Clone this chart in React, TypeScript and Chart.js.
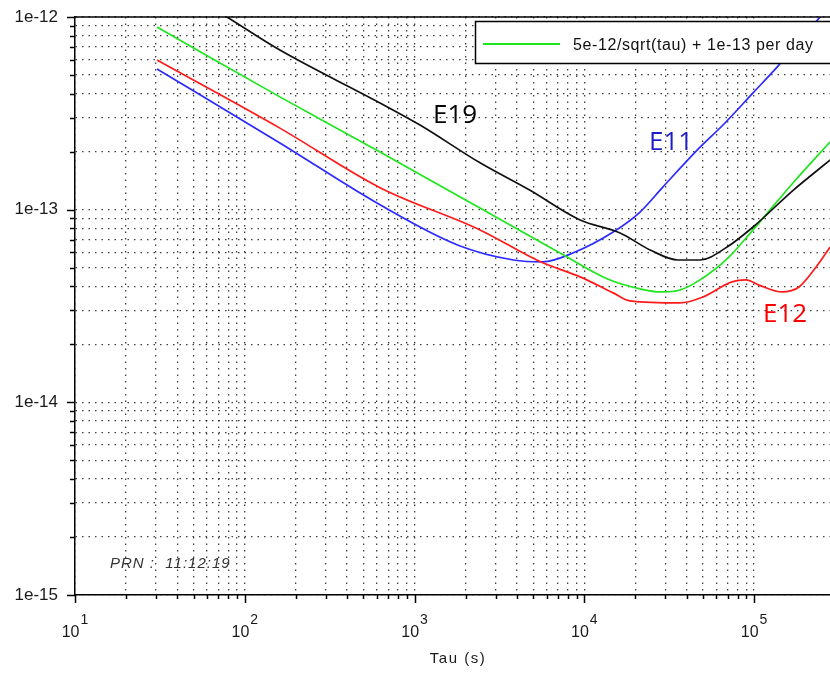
import { useEffect, useRef } from 'react';
import { Chart, registerables } from 'chart.js';

Chart.register(...registerables);

// ---- data (tau in seconds, Allan deviation) ----
const e19Tau = [30, 78.5, 161, 626, 1077, 2431, 4789, 9440, 16250, 24400, 35650, 48050, 69300, 98600, 169800, 280500];
const e19Adev = [1.67e-12, 1.0e-12, 6.74e-13, 3.58e-13, 2.75e-13, 1.75e-13, 1.26e-13, 8.84e-14, 7.57e-14, 6.18e-14, 5.48e-14, 5.48e-14, 6.4e-14, 8.13e-14, 1.26e-13, 1.81e-13];

const specTau = [30.4, 161, 626, 2431, 7194, 14190, 21280, 27920, 36630, 48050, 69300, 98600, 169800, 280500];
const specAdev = [8.87e-13, 3.85e-13, 1.99e-13, 1.02e-13, 5.96e-14, 4.31e-14, 3.88e-14, 3.74e-14, 3.83e-14, 4.32e-14, 5.55e-14, 7.85e-14, 1.38e-13, 2.25e-13];

const e12Tau = [30.4, 161, 626, 2431, 5520, 9440, 14800, 18550, 36700, 50000, 74000, 89500, 107000, 146000, 184000, 232000, 280500];
const e12Adev = [5.98e-13, 2.65e-13, 1.3e-13, 7.85e-14, 5.36e-14, 4.48e-14, 3.7e-14, 3.36e-14, 3.28e-14, 3.52e-14, 4.22e-14, 4.32e-14, 4.06e-14, 3.74e-14, 3.97e-14, 5.04e-14, 6.4e-14];

const e11Tau = [30.4, 161, 626, 1790, 3830, 5700, 8560, 14800, 21300, 29000, 48050, 65600, 98600, 137000, 236000, 280500];
const e11Adev = [5.37e-13, 2.22e-13, 1.06e-13, 6.56e-14, 5.48e-14, 5.36e-14, 5.96e-14, 7.66e-14, 9.72e-14, 1.31e-13, 2.11e-13, 2.75e-13, 4.04e-13, 5.51e-13, 9.64e-13, 1.14e-12];

// ---- axes ----
const xDecades = [10, 100, 1000, 10000, 100000];
const xExponents = ['1', '2', '3', '4', '5'];
const xMin = 10;
const xMax = 2.8e5;
const yDecades = [1e-15, 1e-14, 1e-13, 1e-12];
const yTickLabels = ['1e-15', '1e-14', '1e-13', '1e-12'];
const minorMultipliers = [2, 3, 4, 5, 6, 7, 8, 9];

// ---- texts ----
const legendLabel = '5e-12/sqrt(tau) + 1e-13 per day';
const xTitle = 'Tau (s)';
const prnNote = 'PRN :  11:12:19';
const seriesNames = ['E19', 'E11', 'E12'];

const buildTicks = (decades: number[]) => {
  const out: number[] = [];
  decades.forEach((d, i) => {
    out.push(d);
    if (i < decades.length - 1) minorMultipliers.forEach((m) => out.push(d * m));
  });
  return out;
};
const xTickValues = buildTicks(xDecades);
const yTickValues = buildTicks(yDecades);
const isDecade = (v: number) => Math.abs(Math.log10(v) - Math.round(Math.log10(v))) < 1e-6;

const pts = (xs: number[], ys: number[]) => xs.map((x, i) => ({ x, y: ys[i] }));

const COLORS = {
  e19: '#111111',
  spec: '#1ee61e',
  e12: '#ff1a1a',
  e11: '#2b2bff',
  e11Text: '#1c1cc8',
  e12Text: '#ff0000',
};

const decor = {
  id: 'decor',
  afterDraw(chart: any) {
    const { ctx, chartArea: a, scales } = chart;
    const x = scales.x;
    const y = scales.y;
    ctx.save();
    // top frame line
    ctx.strokeStyle = '#000';
    ctx.lineWidth = 1.5;
    ctx.beginPath();
    ctx.moveTo(a.left, a.top);
    ctx.lineTo(a.right, a.top);
    ctx.stroke();
    // tick marks
    ctx.lineWidth = 1.5;
    xTickValues.forEach((v) => {
      const px = Math.round(x.getPixelForValue(v)) + 0.5;
      const len = isDecade(v) ? 8 : 4;
      ctx.beginPath();
      ctx.moveTo(px, a.bottom);
      ctx.lineTo(px, a.bottom + len);
      ctx.stroke();
    });
    yTickValues.forEach((v) => {
      const py = Math.round(y.getPixelForValue(v)) + 0.5;
      const len = isDecade(v) ? 8 : 5;
      ctx.beginPath();
      ctx.moveTo(a.left, py);
      ctx.lineTo(a.left - len, py);
      ctx.stroke();
    });
    // x labels 10^n
    ctx.fillStyle = '#1a1a1a';
    ctx.textBaseline = 'alphabetic';
    ctx.textAlign = 'left';
    xDecades.forEach((d, i) => {
      const px = x.getPixelForValue(d);
      ctx.font = '16px "Liberation Sans", Arial, sans-serif';
      const wBase = ctx.measureText('10').width;
      ctx.font = '14px "Liberation Sans", Arial, sans-serif';
      const wExp = ctx.measureText(xExponents[i]).width;
      const start = px - (wBase + 1 + wExp) / 2;
      ctx.font = '16px "Liberation Sans", Arial, sans-serif';
      ctx.fillText('10', start, 637);
      ctx.font = '14px "Liberation Sans", Arial, sans-serif';
      ctx.fillText(xExponents[i], start + wBase + 1, 624);
    });
    // x title
    ctx.font = '15px "Liberation Sans", Arial, sans-serif';
    (ctx as any).letterSpacing = '1.5px';
    ctx.textAlign = 'center';
    ctx.fillText(xTitle, 458, 663);
    // PRN note
    ctx.textAlign = 'left';
    ctx.fillStyle = '#333';
    ctx.font = 'italic 15px "Liberation Sans", Arial, sans-serif';
    (ctx as any).letterSpacing = '1px';
    ctx.fillText(prnNote, 110, 568);
    // legend box
    (ctx as any).letterSpacing = '0px';
    ctx.fillStyle = '#fff';
    ctx.fillRect(475, 21, 400, 42);
    ctx.strokeStyle = '#000';
    ctx.lineWidth = 1.5;
    ctx.strokeRect(475.5, 21.5, 400, 42);
    ctx.strokeStyle = COLORS.spec;
    ctx.lineWidth = 2;
    ctx.beginPath();
    ctx.moveTo(483, 44);
    ctx.lineTo(560, 44);
    ctx.stroke();
    ctx.fillStyle = '#111';
    ctx.font = '16px "Liberation Sans", Arial, sans-serif';
    (ctx as any).letterSpacing = '0.6px';
    ctx.fillText(legendLabel, 573, 50);
    (ctx as any).letterSpacing = '0px';
    // series labels
    ctx.font = '26px "Open Sans", sans-serif';
    ctx.fillStyle = '#000';
    ctx.fillText(seriesNames[0], 433, 123);
    ctx.fillStyle = COLORS.e11Text;
    ctx.fillText(seriesNames[1], 649, 150);
    ctx.fillStyle = COLORS.e12Text;
    ctx.fillText(seriesNames[2], 763, 322);
    ctx.restore();
  },
};

const gridCommon = {
  color: 'rgba(0,0,0,0.75)',
  lineWidth: 1.3,
  drawTicks: false,
};
const borderCommon = {
  display: true,
  color: '#000',
  width: 1.5,
  dash: [1.5, 5],
};

export default function App() {
  const ref = useRef<HTMLCanvasElement>(null);
  useEffect(() => {
    if (!ref.current) return;
    const ds = (label: string, xs: number[], ys: number[], color: string) => ({
      label,
      data: pts(xs, ys),
      borderColor: color,
      backgroundColor: color,
      borderWidth: 1.7,
      pointRadius: 0,
      cubicInterpolationMode: 'monotone',
      fill: false,
    });
    const chart = new Chart(ref.current, {
      type: 'line',
      data: {
        datasets: [
          ds('E19', e19Tau, e19Adev, COLORS.e19),
          ds(legendLabel, specTau, specAdev, COLORS.spec),
          ds('E12', e12Tau, e12Adev, COLORS.e12),
          ds('E11', e11Tau, e11Adev, COLORS.e11),
        ],
      },
      options: {
        animation: false,
        responsive: false,
        layout: { padding: { top: 17, right: 0, left: 0, bottom: 0 } },
        plugins: { legend: { display: false }, tooltip: { enabled: false } },
        scales: {
          x: {
            type: 'logarithmic',
            min: xMin,
            max: xMax,
            afterBuildTicks: (s: any) => {
              s.ticks = xTickValues.map((v) => ({ value: v, major: isDecade(v) }));
            },
            ticks: { display: false },
            grid: gridCommon,
            border: borderCommon,
            afterFit: (s: any) => {
              s.height = 80;
              s.paddingLeft = 0;
              s.paddingRight = 0;
            },
          },
          y: {
            type: 'logarithmic',
            min: yDecades[0],
            max: yDecades[yDecades.length - 1],
            afterBuildTicks: (s: any) => {
              s.ticks = yTickValues.map((v) => ({ value: v, major: isDecade(v) }));
            },
            ticks: {
              autoSkip: false,
              padding: 17,
              color: '#1a1a1a',
              font: { family: '"Liberation Sans", Arial, sans-serif', size: 17 },
              callback: (v: any) => {
                const i = yDecades.findIndex((d) => Math.abs(Math.log10(d) - Math.log10(Number(v))) < 1e-6);
                return i >= 0 ? yTickLabels[i] : '';
              },
            },
            grid: gridCommon,
            border: borderCommon,
            afterFit: (s: any) => {
              s.width = 75;
              s.paddingTop = 0;
              s.paddingBottom = 0;
            },
          },
        },
      } as any,
      plugins: [decor],
    });
    return () => chart.destroy();
  }, []);
  return (
    <div style={{ position: 'fixed', left: 0, top: 0, width: 830, height: 675, background: '#fff' }}>
      <canvas ref={ref} width={830} height={675} style={{ display: 'block' }} />
    </div>
  );
}
